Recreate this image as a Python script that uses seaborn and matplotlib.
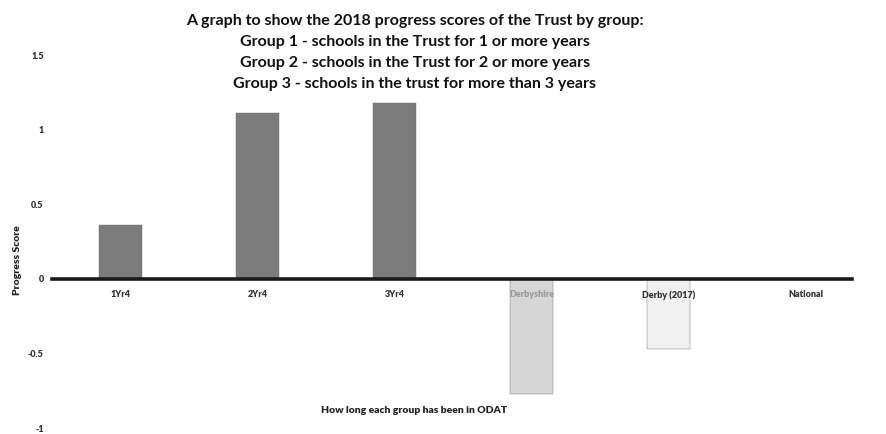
import pandas as pd
import matplotlib.pyplot as plt
import seaborn as sns

# Progress scores
groups = ["1Yr4", "2Yr4", "3Yr4", "Derbyshire", "Derby (2017)", "National"]
scores = [0.36, 1.11, 1.18, -0.77, -0.47, 0.0]
bar_colors = ["#7b7b7b", "#7b7b7b", "#7b7b7b", "#d6d6d6", "#f1f1f1", "#f1f1f1"]
y_ticks = [-1, -0.5, 0, 0.5, 1, 1.5]
y_tick_labels = ["-1", "-0.5", "0", "0.5", "1", "1.5"]

title_lines = [
    "A graph to show the 2018 progress scores of the Trust by group:",
    "Group 1 - schools in the Trust for 1 or more years",
    "Group 2 - schools in the Trust for 2 or more years",
    "Group 3 - schools in the trust for more than 3 years",
]

df = pd.DataFrame({"Group": groups, "Score": scores})

sns.set_style("white")
plt.rcParams["font.family"] = ["Lato", "DejaVu Sans"]

fig = plt.figure(figsize=(8.86, 4.34), dpi=100)
ax = fig.add_axes([0.0587, 0.0138, 0.903, 0.859])

sns.barplot(data=df, x="Group", y="Score", hue="Group", palette=bar_colors,
            legend=False, width=0.31, ax=ax, edgecolor="#6a6a6a", linewidth=0.3)

ax.set_ylim(-1, 1.5)
ax.set_xlim(-0.5, 5.34)
ax.set_yticks(y_ticks)
ax.set_yticklabels(y_tick_labels, fontsize=6.5, fontweight="heavy", color="#333333")

# zero line acts as the category axis, drawn over the bars
ax.set_axisbelow(False)
for side in ["top", "right", "left"]:
    ax.spines[side].set_visible(False)
ax.spines["bottom"].set_position(("data", 0))
ax.spines["bottom"].set_linewidth(2.6)
ax.spines["bottom"].set_color("#1a1a1a")
ax.tick_params(axis="both", length=0)
ax.tick_params(axis="x", pad=8)
ax.tick_params(axis="y", pad=6)
for lbl in ax.get_xticklabels():
    lbl.set_fontsize(6.5)
    lbl.set_fontweight("heavy")
    # the label sitting on the Derbyshire bar looks washed out in the original
    lbl.set_color("#9a9a9a" if lbl.get_text() == "Derbyshire" else "#333333")

ax.set_xlabel("")
ax.set_ylabel("")
fig.text(0.020, 0.40, "Progress Score", rotation=90, ha="center", va="center",
         fontsize=7.5, fontweight="heavy", color="#222222")
fig.text(0.467, 0.055, "How long each group has been in ODAT", ha="center", va="center",
         fontsize=7.5, fontweight="heavy", color="#222222")

for i, line in enumerate(title_lines):
    fig.text(0.468, 1 - (21 + i * 21) / 434, line, ha="center", va="center",
             fontsize=11.5, fontweight="bold", color="#111111")

plt.savefig("out.png", dpi=100)
